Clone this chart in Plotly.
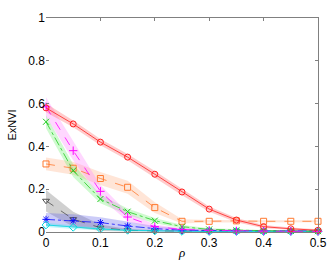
import plotly.graph_objects as go

rho = [0, 0.05, 0.1, 0.15, 0.2, 0.25, 0.3, 0.35, 0.4, 0.45, 0.5]

red = [0.58, 0.505, 0.42, 0.35, 0.27, 0.187, 0.107, 0.056, 0.025, 0.015, 0.008]
red_err = [0.02, 0.016, 0.015, 0.015, 0.015, 0.015, 0.012, 0.01, 0.008, 0.006, 0.005]

magenta = [0.585, 0.38, 0.19, 0.07, 0.025, 0.012, 0.008, 0.005, 0.004, 0.003, 0.003]
magenta_err = [0.045, 0.045, 0.03, 0.02, 0.01, 0.006, 0.004, 0.003, 0.002, 0.002, 0.002]

green = [0.515, 0.287, 0.154, 0.095, 0.053, 0.025, 0.012, 0.008, 0.006, 0.005, 0.004]
green_err = [0.03, 0.03, 0.02, 0.015, 0.012, 0.008, 0.005, 0.004, 0.003, 0.003, 0.003]

orange = [0.318, 0.298, 0.25, 0.209, 0.114, 0.05, 0.05, 0.052, 0.05, 0.05, 0.05]
orange_err = [0.03, 0.03, 0.03, 0.03, 0.025, 0.01, 0.006, 0.005, 0.005, 0.005, 0.005]

gray = [0.146, 0.06, 0.02, 0.008, 0.005, 0.004, 0.003, 0.003, 0.003, 0.003, 0.003]
gray_err = [0.05, 0.035, 0.015, 0.006, 0.004, 0.003, 0.003, 0.003, 0.003, 0.003, 0.003]

blue = [0.059, 0.053, 0.044, 0.028, 0.016, 0.008, 0.006, 0.005, 0.005, 0.005, 0.005]
blue_err = [0.03, 0.03, 0.025, 0.02, 0.012, 0.008, 0.005, 0.004, 0.004, 0.004, 0.004]

cyan = [0.033, 0.022, 0.014, 0.008, 0.005, 0.003, 0.002, 0.002, 0.002, 0.002, 0.002]
cyan_err = [0.01, 0.008, 0.006, 0.004, 0.003, 0.002, 0.002, 0.002, 0.002, 0.002, 0.002]

xticks = [0, 0.1, 0.2, 0.3, 0.4, 0.5]
xtick_text = ["0", "0.1", "0.2", "0.3", "0.4", "0.5"]
yticks = [0, 0.2, 0.4, 0.6, 0.8, 1]
ytick_text = ["0", "0.2", "0.4", "0.6", "0.8", "1"]

series = [
    # values, err, line color, band color, symbol, dash
    (gray, gray_err, "#505050", "rgba(120,120,120,0.35)", "triangle-down-open", "dash"),
    (blue, blue_err, "#1010ff", "rgba(100,100,235,0.33)", "asterisk-open", "dashdot"),
    (cyan, cyan_err, "#00d8e0", "rgba(80,230,240,0.35)", "diamond-open", "solid"),
    (orange, orange_err, "#ff7a30", "rgba(255,175,130,0.32)", "square-open", "dash"),
    (green, green_err, "#22cc22", "rgba(110,240,110,0.32)", "x-thin-open", "dashdot"),
    (magenta, magenta_err, "#ff00ff", "rgba(255,130,255,0.32)", "cross-thin-open", "dash"),
    (red, red_err, "#ff2020", "rgba(255,120,120,0.38)", "circle-open", "solid"),
]

fig = go.Figure()

for vals, err, lc, bc, sym, dash in series:
    upper = [v + e for v, e in zip(vals, err)]
    lower = [max(v - e, 0) for v, e in zip(vals, err)]
    fig.add_trace(go.Scatter(
        x=rho + rho[::-1], y=upper + lower[::-1],
        fill="toself", fillcolor=bc, line=dict(width=0),
        mode="lines", hoverinfo="skip", showlegend=False,
    ))

for vals, err, lc, bc, sym, dash in series:
    fig.add_trace(go.Scatter(
        x=rho, y=vals, mode="lines+markers",
        line=dict(color=lc, width=0.8, dash=dash),
        marker=dict(symbol=sym, size=6, color=lc, line=dict(color=lc, width=1)),
        cliponaxis=False, showlegend=False,
    ))

fig.add_trace(go.Scatter(x=[0], y=[0], yaxis="y2", mode="markers",
                         marker=dict(opacity=0), showlegend=False, hoverinfo="skip"))

axis_font = dict(family="Liberation Sans, Arial, sans-serif", size=12, color="#000000")

fig.update_layout(
    width=332, height=260,
    margin=dict(l=46, r=14, t=18, b=28, autoexpand=False),
    paper_bgcolor="white", plot_bgcolor="white",
    font=axis_font,
    xaxis=dict(
        range=[0, 0.5], tickvals=xticks, ticktext=xtick_text, automargin=False,
        showgrid=False, zeroline=False, showline=True, linecolor="#808080",
        linewidth=1, mirror="ticks", ticks="inside", ticklen=3, tickcolor="#808080",
        tickfont=axis_font,
        title=dict(text="<i>ρ</i>", font=dict(family="Liberation Serif, serif", size=13), standoff=0),
    ),
    yaxis=dict(
        range=[0, 1], tickvals=yticks, ticktext=ytick_text, automargin=False,
        showgrid=False, zeroline=False, showline=False,
        ticks="inside", ticklen=3, tickcolor="#808080",
        tickfont=axis_font,
        title=dict(text="ExNVI", font=dict(family="Liberation Sans, Arial, sans-serif", size=11), standoff=9),
    ),
    yaxis2=dict(
        range=[0, 1], tickvals=yticks, overlaying="y", side="right", anchor="x",
        automargin=False,
        showgrid=False, zeroline=False, showline=True, linecolor="#808080", linewidth=1,
        ticks="inside", ticklen=3, tickcolor="#808080", showticklabels=False,
    ),
)

fig.write_html(
    "out.html",
    config={"displayModeBar": False},
    post_script="document.body.style.margin='0';document.body.style.overflow='hidden';",
)
